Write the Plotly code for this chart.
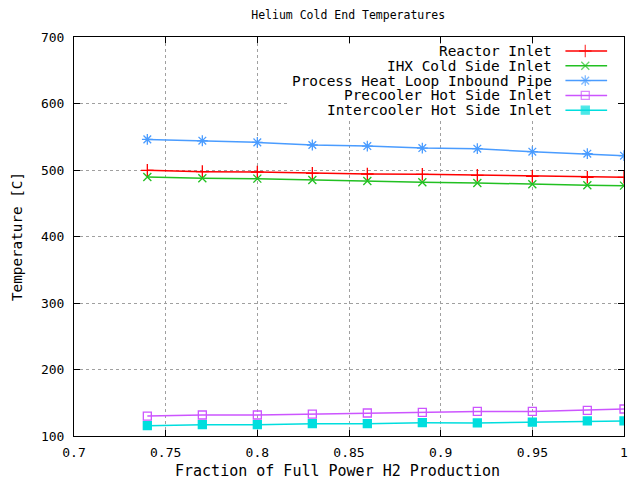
import plotly.graph_objects as go

x_frac = [0.74, 0.77, 0.80, 0.83, 0.86, 0.89, 0.92, 0.95, 0.98, 1.00]
reactor_inlet = [499.5, 497.5, 497, 495, 494, 493.5, 492, 490.5, 489, 489]
ihx_cold_inlet = [489.5, 487.5, 487, 485, 483.5, 481.5, 480.5, 478.5, 477, 476.5]
process_heat_pipe = [546, 544, 541.5, 537.6, 536, 533, 532, 527.5, 524.5, 521.5]
precooler_hot_inlet = [130, 131.6, 131.6, 133, 134.6, 135.6, 137, 137, 138.6, 140.6]
intercooler_hot_inlet = [115.5, 117, 117, 118.6, 118.6, 120, 119.6, 121, 122.6, 122.6]

names = ["Reactor Inlet", "IHX Cold Side Inlet", "Process Heat Loop Inbound Pipe",
         "Precooler Hot Side Inlet", "Intercooler Hot Side Inlet"]
series = [reactor_inlet, ihx_cold_inlet, process_heat_pipe, precooler_hot_inlet, intercooler_hot_inlet]
colors = ["#ff0000", "#22c022", "#4a9cff", "#cc55ff", "#00dede"]
symbols = ["cross-thin-open", "x-thin-open", "asterisk-open", "square-open", "square"]
msizes = [9, 8, 9, 8, 8]

x_ticks = [0.7, 0.75, 0.8, 0.85, 0.9, 0.95, 1.0]
x_ticktext = ["0.7", "0.75", "0.8", "0.85", "0.9", "0.95", "1"]
y_ticks = [100, 200, 300, 400, 500, 600, 700]

FONT = "DejaVu Sans Mono"

fig = go.Figure()
for n, s, c, sym, ms in zip(names, series, colors, symbols, msizes):
    fig.add_trace(go.Scatter(
        x=x_frac, y=s, mode="lines+markers", name=n,
        line=dict(color=c, width=1.5),
        marker=dict(symbol=sym, size=ms, color=c, line=dict(color=c, width=1.3)),
        showlegend=False,
    ))

# custom gnuplot-style legend (text right, sample at right) on pixel overlay axes
L, R, T, B = 74, 628, 37, 436
row0, dy = 51, 14.8

# opaque legend background (covers grid lines like gnuplot's key)
fig.add_trace(go.Scatter(
    x=[290, 626, 626, 290, 290], y=[44, 44, 118, 118, 44], mode="none",
    fill="toself", fillcolor="white", xaxis="x2", yaxis="y2",
    showlegend=False, hoverinfo="skip",
))

annotations = []
for i, (n, c, sym, ms) in enumerate(zip(names, colors, symbols, msizes)):
    yy = row0 + i * dy
    fig.add_trace(go.Scatter(
        x=[569, 589, 611], y=[yy, yy, yy], mode="lines+markers",
        xaxis="x2", yaxis="y2", showlegend=False, hoverinfo="skip",
        line=dict(color=c, width=1.5),
        marker=dict(symbol=sym, size=[0, ms, 0], color=c, line=dict(color=c, width=1.3)),
    ))
    annotations.append(dict(
        x=557, y=yy, xref="x2", yref="y2", text=n, showarrow=False,
        xanchor="right", yanchor="middle", font=dict(family=FONT, size=14.4, color="black"),
    ))

annotations.append(dict(
    x=(339 - L) / (R - L), y=-(471 - B) / (B - T), xref="paper", yref="paper",
    text="Fraction of Full Power H2 Production", showarrow=False,
    xanchor="center", yanchor="middle", font=dict(family=FONT, size=15, color="black"),
))

fig.update_layout(
    width=633, height=485,
    margin=dict(l=L, r=633 - R, t=T, b=485 - B),
    paper_bgcolor="white", plot_bgcolor="white",
    font=dict(family=FONT, size=13, color="black"),
    title=dict(text="Helium Cold End Temperatures", x=0.55, xanchor="center",
               y=1 - 15 / 485, yanchor="middle", font=dict(family=FONT, size=11.5)),
    xaxis=dict(range=[0.7, 1.0], tickvals=x_ticks, ticktext=x_ticktext,
               showgrid=True, gridcolor="#a0a0a0", griddash="dot", gridwidth=1,
               ticks="inside", ticklen=6, tickcolor="black", mirror="ticks",
               showline=True, linecolor="black", linewidth=1,
               zeroline=False, ticklabelstandoff=4),
    yaxis=dict(range=[100, 700], tickvals=y_ticks,
               showgrid=True, gridcolor="#a0a0a0", griddash="dot", gridwidth=1,
               ticks="inside", ticklen=6, tickcolor="black", mirror="ticks",
               showline=True, linecolor="black", linewidth=1,
               zeroline=False, ticklabelstandoff=6,
               title=dict(text="Temperature [C]", standoff=14,
                          font=dict(family=FONT, size=14.3))),
    xaxis2=dict(overlaying="x", range=[L, R], visible=False, fixedrange=True),
    yaxis2=dict(overlaying="y", range=[B, T], visible=False, fixedrange=True),
    annotations=annotations,
)

fig.write_html("out.html")
